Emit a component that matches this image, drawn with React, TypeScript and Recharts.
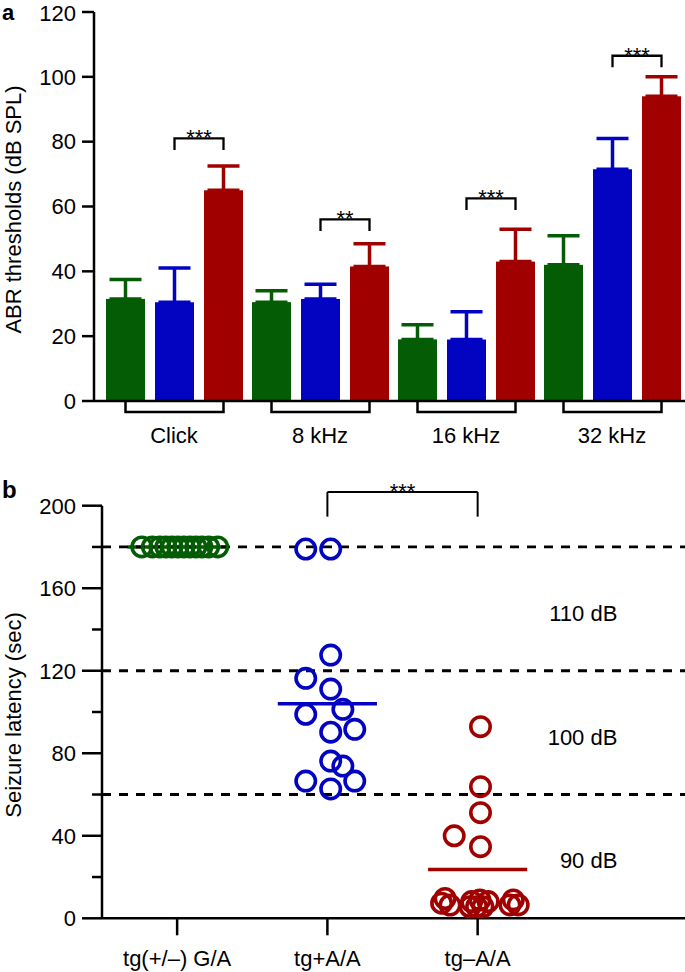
import React from "react";
import {
  BarChart,
  Bar,
  XAxis,
  YAxis,
  ErrorBar,
  ScatterChart,
  Scatter,
  ReferenceLine,
} from "recharts";

const FONT = '"Liberation Sans", Arial, Helvetica, sans-serif';
const GREEN = "#045c04";
const BLUE = "#0303c2";
const RED = "#a00000";
const BAR_GAP = 10;

// panel a: ABR thresholds
const frequencies = ["Click", "8 kHz", "16 kHz", "32 kHz"];
const greenMean = [31.5, 30.5, 19, 42];
const greenErr = [6, 3.5, 4.5, 9];
const blueMean = [30.5, 31.5, 19, 71.5];
const blueErr = [10.5, 4.5, 8.5, 9.5];
const redMean = [65, 41.5, 43, 94];
const redErr = [7.5, 7, 10, 6];
const sigTop = [81, 56, 62.5, 106.5];
const sigText = ["***", "**", "***", "***"];
const abrTicks = [0, 20, 40, 60, 80, 100, 120];

// panel b: seizure latency
const genotypes = ["tg(+/–) G/A", "tg+A/A", "tg–A/A"];
const greenJitter = [-0.235, -0.165, -0.115, -0.075, -0.035, 0.005, 0.045, 0.085, 0.125, 0.165, 0.21, 0.27];
const greenLatency = [180, 180, 180, 180, 180, 180, 180, 180, 180, 180, 180, 180];
const blueJitter = [-0.144, 0.022, 0.022, -0.144, 0.022, 0.103, -0.144, 0.022, 0.182, 0.022, 0.103, -0.144, 0.182, 0.022];
const blueLatency = [179, 179, 127.6, 116.3, 111.1, 101.3, 98.9, 90.2, 91.6, 76.2, 73.8, 66.5, 66.5, 62.7];
const redJitter = [0.019, 0.019, 0.019, -0.156, 0.019, -0.217, -0.184, -0.24, -0.04, 0.015, 0.07, -0.007, 0.035, -0.051, 0.237, 0.27, 0.215];
const redLatency = [92.9, 63.8, 51.2, 40, 34.7, 9.6, 6.4, 7.3, 8.1, 8.9, 8.1, 5.6, 5.6, 5.6, 8.9, 6.5, 6.5];
const groupMeans = [180, 104, 23.7];
const dashedLevels = [60, 120, 180];
const levelLabels = ["110 dB", "100 dB", "90 dB"];
const levelLabelY = [148, 88, 28.3];
const latencyTicks = [0, 20, 40, 60, 80, 100, 120, 140, 160, 180, 200];
const latencyMajor = [0, 40, 80, 120, 160, 200];
const sigB = { from: 2, to: 3, top: 206.6, leg: 194.7, text: "***" };

const abrData = frequencies.map((f, i) => ({
  freq: f,
  green: greenMean[i],
  greenErr: [0, greenErr[i]],
  blue: blueMean[i],
  blueErr: [0, blueErr[i]],
  red: redMean[i],
  redErr: [0, redErr[i]],
  sig: sigTop[i],
  sigText: sigText[i],
}));

const toPoints = (cat: number, jit: number[], ys: number[]) =>
  ys.map((y, i) => ({ x: cat + jit[i], y }));

const greenPts = toPoints(1, greenJitter, greenLatency);
const bluePts = toPoints(2, blueJitter, blueLatency);
const redPts = toPoints(3, redJitter, redLatency);
const levelPts = levelLabels.map((t, i) => ({ x: 3.93, y: levelLabelY[i], label: t }));

// green bar also draws the group bracket under the axis (green centre -> red centre)
const GreenBar = (p: any) => {
  const { x, y, width, height, fill } = p;
  const base = y + height;
  const left = x + width / 2;
  const right = left + 2 * (width + BAR_GAP);
  return (
    <g>
      <rect x={x} y={y} width={width} height={height} fill={fill} />
      <path
        d={`M${left},${base + 1} V${base + 11} H${right} V${base + 1}`}
        fill="none"
        stroke="#000"
        strokeWidth={2.5}
      />
    </g>
  );
};

// red bar also draws the significance bracket (blue centre -> red centre)
const RedBar = (p: any) => {
  const { x, y, width, height, fill, payload } = p;
  const unit = height / payload.red;
  const base = y + height;
  const top = base - payload.sig * unit;
  const right = x + width / 2;
  const left = right - (width + BAR_GAP);
  return (
    <g>
      <rect x={x} y={y} width={width} height={height} fill={fill} />
      <path
        d={`M${left},${top + 11.5} V${top} H${right} V${top + 11.5}`}
        fill="none"
        stroke="#000"
        strokeWidth={2.3}
      />
      <text x={(left + right) / 2} y={top + 7} textAnchor="middle" fontSize={22} fontFamily={FONT} fill="#000">
        {payload.sigText}
      </text>
    </g>
  );
};

const FreqTick = (p: any) => (
  <text x={p.x} y={p.y} dy={42} textAnchor="middle" fontSize={22} fontFamily={FONT} fill="#000">
    {p.payload.value}
  </text>
);

const LatencyTick = (p: any) => {
  const major = latencyMajor.includes(p.payload.value);
  return (
    <g>
      <line
        x1={p.x + 6 + (major ? 0 : 10)}
        x2={p.x + 26}
        y1={p.y}
        y2={p.y}
        stroke="#000"
        strokeWidth={2.5}
      />
      {major && (
        <text x={p.x} y={p.y} dy="0.36em" textAnchor="end" fontSize={22} fontFamily={FONT} fill="#000">
          {p.payload.value}
        </text>
      )}
    </g>
  );
};

const GenotypeTick = (p: any) => (
  <text x={p.x} y={p.y} dy={21} textAnchor="middle" fontSize={22} fontFamily={FONT} fill="#000">
    {genotypes[p.payload.value - 1]}
  </text>
);

const axisTitle = (text: string) => (p: any) => {
  const vb = p.viewBox;
  const cx = vb.x + 13;
  const cy = vb.y + vb.height / 2 + 3;
  return (
    <text
      x={cx}
      y={cy}
      dy="0.36em"
      transform={`rotate(-90, ${cx}, ${cy})`}
      textAnchor="middle"
      fontSize={22}
      fontFamily={FONT}
      fill="#000"
    >
      {text}
    </text>
  );
};

const ring = (color: string) => (p: any) => (
  <circle cx={p.cx} cy={p.cy} r={9.7} fill="none" stroke={color} strokeWidth={3.6} />
);

const LevelText = (p: any) => (
  <text x={p.cx} y={p.cy} dy="0.36em" textAnchor="end" fontSize={22} fontFamily={FONT} fill="#000">
    {p.payload.label}
  </text>
);

const SigLabelB = (p: any) => {
  const vb = p.viewBox || {};
  return (
    <text x={vb.x + (vb.width || 0) / 2} y={vb.y + 6.5} textAnchor="middle" fontSize={22} fontFamily={FONT} fill="#000">
      {sigB.text}
    </text>
  );
};

export default function App() {
  return (
    <div
      style={{
        position: "absolute",
        left: 0,
        top: 0,
        width: 685,
        height: 972,
        background: "#fff",
        fontFamily: FONT,
        overflow: "hidden",
      }}
    >
      {/* a */}
      <div style={{ position: "absolute", left: 0, top: 0 }}>
        <BarChart
          width={685}
          height={470}
          data={abrData}
          margin={{ top: 12, right: 0, bottom: 0, left: 0 }}
          barGap={BAR_GAP}
          barCategoryGap={5}
        >
          <XAxis
            dataKey="freq"
            interval={0}
            height={69}
            padding={{ left: 7, right: 0 }}
            axisLine={{ stroke: "#000", strokeWidth: 2.5 }}
            tickLine={false}
            tickSize={0}
            tickMargin={0}
            tick={<FreqTick />}
          />
          <YAxis
            domain={[0, 120]}
            ticks={abrTicks}
            width={94}
            tickSize={12}
            tickMargin={6}
            axisLine={{ stroke: "#000", strokeWidth: 2.5 }}
            tickLine={{ stroke: "#000", strokeWidth: 2.5 }}
            tick={{ fontSize: 22, fill: "#000", fontFamily: FONT }}
            label={{ content: axisTitle("ABR thresholds (dB SPL)") }}
          />
          <Bar dataKey="green" fill={GREEN} isAnimationActive={false} shape={GreenBar}>
            <ErrorBar dataKey="greenErr" direction="y" width={16} stroke={GREEN} strokeWidth={3.5} isAnimationActive={false} />
          </Bar>
          <Bar dataKey="blue" fill={BLUE} isAnimationActive={false}>
            <ErrorBar dataKey="blueErr" direction="y" width={16} stroke={BLUE} strokeWidth={3.5} isAnimationActive={false} />
          </Bar>
          <Bar dataKey="red" fill={RED} isAnimationActive={false} shape={RedBar}>
            <ErrorBar dataKey="redErr" direction="y" width={16} stroke={RED} strokeWidth={3.5} isAnimationActive={false} />
          </Bar>
        </BarChart>
      </div>

      {/* b */}
      <div style={{ position: "absolute", left: 0, top: 480 }}>
        <ScatterChart width={685} height={492} margin={{ top: 25.7, right: 0, bottom: 0, left: 0 }}>
          <XAxis
            type="number"
            dataKey="x"
            domain={[0.5, 4.38]}
            ticks={[1, 2, 3]}
            height={53.7}
            tickSize={17}
            tickMargin={10}
            axisLine={{ stroke: "#000", strokeWidth: 2.5 }}
            tickLine={{ stroke: "#000", strokeWidth: 2.5 }}
            tick={<GenotypeTick />}
          />
          <YAxis
            type="number"
            dataKey="y"
            domain={[0, 200]}
            ticks={latencyTicks}
            interval={0}
            width={102}
            tickSize={20}
            tickMargin={6}
            axisLine={{ stroke: "#000", strokeWidth: 2.5 }}
            tickLine={false}
            tick={<LatencyTick />}
            label={{ content: axisTitle("Seizure latency (sec)") }}
          />
          {groupMeans.map((m, i) => (
            <ReferenceLine
              key={"m" + i}
              segment={[
                { x: i + 1 - 0.33, y: m },
                { x: i + 1 + 0.33, y: m },
              ]}
              stroke={[GREEN, BLUE, RED][i]}
              strokeWidth={3.5}
            />
          ))}
          <Scatter data={greenPts} isAnimationActive={false} shape={ring(GREEN)} />
          <Scatter data={bluePts} isAnimationActive={false} shape={ring(BLUE)} />
          <Scatter data={redPts} isAnimationActive={false} shape={ring(RED)} />
          <Scatter data={levelPts} isAnimationActive={false} shape={LevelText} />
          {dashedLevels.map((v) => (
            <ReferenceLine key={"d" + v} y={v} stroke="#000" strokeWidth={2.8} strokeDasharray="9 8" />
          ))}
          <ReferenceLine
            segment={[
              { x: sigB.from, y: sigB.top },
              { x: sigB.to, y: sigB.top },
            ]}
            ifOverflow="visible"
            stroke="#000"
            strokeWidth={2}
            label={{ content: SigLabelB }}
          />
          <ReferenceLine
            segment={[
              { x: sigB.from, y: sigB.top },
              { x: sigB.from, y: sigB.leg },
            ]}
            ifOverflow="visible"
            stroke="#000"
            strokeWidth={2}
          />
          <ReferenceLine
            segment={[
              { x: sigB.to, y: sigB.top },
              { x: sigB.to, y: sigB.leg },
            ]}
            ifOverflow="visible"
            stroke="#000"
            strokeWidth={2}
          />
        </ScatterChart>
      </div>

      <svg width={685} height={972} style={{ position: "absolute", left: 0, top: 0, pointerEvents: "none" }}>
        <text x={2} y={20} fontSize={22} fontWeight="bold" fontFamily={FONT} fill="#000">
          a
        </text>
        <text x={2} y={498} fontSize={24} fontWeight="bold" fontFamily={FONT} fill="#000">
          b
        </text>
      </svg>
    </div>
  );
}
